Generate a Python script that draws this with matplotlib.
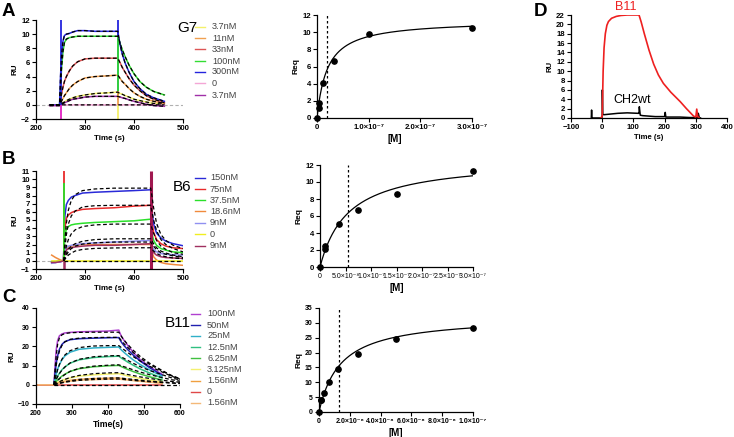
import numpy as np
import matplotlib
matplotlib.use("Agg")
import matplotlib.pyplot as plt
from matplotlib.lines import Line2D

plt.rcParams['font.family'] = ['Liberation Sans', 'DejaVu Sans']

W, H = 734, 437
nan = np.nan

# ---------------- Panel A (G7) sensorgram ----------------
a_time = [228, 248, 250, 252, 255, 258, 262, 268, 275, 285, 300, 320, 345, 367,
          369, 372, 376, 382, 390, 400, 412, 425, 440, 462]
a_labels = ['3.7nM', '11nM', '33nM', '100nM', '300nM', '0', '3.7nM']
a_colors = ['#f4f06a', '#f0a050', '#dd5555', '#33dd33', '#2424dd', '#f4a6d6', '#a030a8']
a_37y = [0, 0, 0, 0.1, 0.3, 0.4, 0.6, 0.8, 1.0, 1.2, 1.4, 1.6, 1.7, 1.8,
         1.7, 1.6, 1.5, 1.3, 1.1, 0.8, 0.6, 0.4, 0.2, 0.1]
a_11 = [0, 0, 0.2, 0.5, 0.9, 1.3, 1.7, 2.3, 2.8, 3.3, 3.8, 4.0, 4.1, 4.2,
        4.0, 3.7, 3.3, 2.9, 2.3, 1.7, 1.2, 0.8, 0.5, 0.2]
a_33 = [0, 0, 0.5, 1.5, 2.5, 3.3, 4.0, 4.8, 5.5, 6.1, 6.5, 6.6, 6.6, 6.6,
        6.3, 5.9, 5.3, 4.6, 3.7, 2.8, 2.0, 1.3, 0.8, 0.3]
a_100 = [0, 0, 2.0, 5.0, 7.5, 8.8, 9.3, 9.5, 9.6, 9.7, 9.7, 9.7, 9.7, 9.7,
         9.3, 8.6, 7.8, 6.8, 5.6, 4.4, 3.3, 2.5, 1.9, 1.4]
a_300 = [0, 0, 4.0, 7.0, 9.0, 9.8, 10.0, 10.1, 10.3, 10.5, 10.5, 10.4, 10.4, 10.4,
         9.5, 8.4, 7.2, 5.9, 4.6, 3.3, 2.3, 1.5, 1.0, 0.5]
a_0 = [-0.1, -0.1, 0, 0, 0, 0, 0, 0, 0, 0, 0, 0, 0, 0,
       0, 0, 0, 0, 0, 0, 0, 0, 0, 0]
a_37p = [-0.1, -0.1, 0, 0.1, 0.2, 0.3, 0.4, 0.6, 0.8, 0.9, 1.1, 1.2, 1.2, 1.2,
         1.15, 1.1, 1.0, 0.9, 0.7, 0.5, 0.3, 0.1, -0.1, -0.2]
a_series = [a_37y, a_11, a_33, a_100, a_300, a_0, a_37p]
a_spike_t = [250, 250, 368, 368, 368, 368]
a_spike_lo = [0, -2, 0.7, 1.0, 0, -2]
a_spike_hi = [12, 0, 12, 9.7, 2.0, 0]
a_spike_c = ['#2424dd', '#e020c0', '#2424dd', '#33dd33', '#f0a050', '#f4f06a']

# ---------------- Panel A Req ----------------
a_conc = [0, 3.7e-9, 3.7e-9, 1.1e-8, 3.3e-8, 1.0e-7, 3.0e-7]
a_req = [0, 1.2, 1.7, 4.1, 6.6, 9.8, 10.5]
a_kd, a_rmax = 2.0e-8, 11.4

# ---------------- Panel B (B6) sensorgram ----------------
b_time = [232, 240, 250, 256, 257, 259, 262, 266, 272, 280, 295, 320, 360, 400, 434,
          436, 440, 446, 455, 465, 480, 500]
b_labels = ['150nM', '75nM', '37.5nM', '18.6nM', '9nM', '0', '9nM']
b_colors = ['#2a2ad8', '#e82a2a', '#2ae02a', '#f08a3c', '#9090f0', '#f0ee20', '#a03060']
b_150 = [-0.2, -0.2, -0.1, 0, 2.0, 5.5, 6.9, 7.4, 7.8, 8.0, 8.3, 8.4, 8.5, 8.6, 8.7,
         6.5, 4.5, 3.4, 2.8, 2.4, 2.1, 1.85]
b_75 = [-0.1, -0.1, 0, 0, 1.5, 4.0, 5.2, 5.6, 5.9, 6.1, 6.3, 6.4, 6.5, 6.7, 6.8,
        5.0, 3.5, 2.6, 2.1, 1.8, 1.6, 1.5]
b_37 = [-0.1, -0.1, 0, 0, 1.0, 3.0, 3.9, 4.2, 4.4, 4.5, 4.6, 4.7, 4.8, 4.9, 5.1,
        3.5, 2.5, 1.9, 1.5, 1.3, 1.1, 1.0]
b_18 = [0.7, 0.4, 0.1, 0, 0.3, 0.9, 1.4, 1.7, 1.8, 1.9, 2.0, 2.0, 2.0, 2.0, 2.0,
        1.2, 0.5, 0.1, -0.2, -0.35, -0.45, -0.55]
b_9a = [-0.3, -0.2, -0.1, 0, 0.5, 1.2, 1.6, 1.8, 1.9, 2.0, 2.1, 2.2, 2.3, 2.4, 2.5,
        1.9, 1.4, 1.1, 0.9, 0.8, 0.75, 0.7]
b_0 = [0, 0, 0, 0, 0, 0, 0, 0, 0, 0, 0, 0, 0, 0, 0, 0, 0, 0, 0, 0, 0, 0]
b_9b = [-0.2, -0.2, -0.1, 0, 0.3, 0.9, 1.3, 1.5, 1.6, 1.7, 1.8, 1.9, 1.9, 2.0, 2.1,
        1.5, 1.0, 0.7, 0.5, 0.4, 0.35, 0.3]
b_series = [b_150, b_75, b_37, b_18, b_9a, b_0, b_9b]
b_fit1 = [0, 0, 0, 0, 0, 2.5, 4.6, 6.2, 7.4, 8.1, 8.6, 8.8, 8.9, 8.9, 8.9,
          8.2, 6.5, 4.6, 3.2, 2.5, 1.9, 1.5]
b_fit2 = [0, 0, 0, 0, 0, 1.6, 3.2, 4.5, 5.5, 6.1, 6.6, 6.75, 6.8, 6.8, 6.8,
          6.2, 5.0, 3.7, 2.6, 2.0, 1.5, 1.1]
b_fit3 = [0, 0, 0, 0, 0, 0.9, 1.8, 2.6, 3.3, 3.8, 4.2, 4.4, 4.5, 4.5, 4.5,
          4.1, 3.4, 2.5, 1.8, 1.4, 1.0, 0.8]
b_fit4 = [0, 0, 0, 0, 0, 0.4, 0.9, 1.4, 1.8, 2.1, 2.4, 2.6, 2.7, 2.7, 2.7,
          2.5, 2.1, 1.6, 1.2, 0.95, 0.7, 0.5]
b_fit5 = [0, 0, 0, 0, 0, 0.3, 0.7, 1.1, 1.5, 1.8, 2.05, 2.2, 2.3, 2.3, 2.3,
          2.1, 1.8, 1.35, 1.0, 0.8, 0.6, 0.4]
b_fit6 = [0, 0, 0, 0, 0, 0.2, 0.45, 0.7, 0.95, 1.2, 1.4, 1.52, 1.58, 1.6, 1.6,
          1.45, 1.2, 0.9, 0.65, 0.5, 0.35, 0.25]
b_fits = [b_fit1, b_fit2, b_fit3, b_fit4, b_fit5, b_fit6, b_0]
b_spike_t = [257, 257, 257, 435]
b_spike_lo = [0, 0, -1, -1]
b_spike_hi = [11, 9.5, 0, 11]
b_spike_c = ['#e82a2a', '#2ae02a', '#a03060', '#a01850']

# ---------------- Panel B Req ----------------
b_conc = [0, 9e-9, 9e-9, 3.75e-8, 7.5e-8, 1.5e-7, 3.0e-7]
b_req = [0, 2.1, 2.5, 5.1, 6.75, 8.6, 11.25]
b_kd, b_rmax = 5.5e-8, 12.7

# ---------------- Panel C (B11) sensorgram ----------------
c_time = [206, 248, 250, 253, 256, 260, 265, 272, 280, 295, 320, 360, 400, 430,
          433, 438, 445, 455, 470, 490, 515, 550, 575, 600]
c_labels = ['100nM', '50nM', '25nM', '12.5nM', '6.25nM', '3.125nM', '1.56nM', '0', '1.56nM']
c_colors = ['#b040d0', '#2020b0', '#30b0c8', '#30c080', '#40c040', '#f4f070', '#f0a040',
            '#e04848', '#f4b878']
c_100 = [0, 0, 0, 10, 18, 23, 25.5, 26.5, 27, 27.3, 27.6, 27.8, 28.0, 28.5,
         27, 25, 23, 20.5, 17, 13, 9.5, 5.5, nan, nan]
c_50 = [0, 0, 0, 6, 11, 15, 18.5, 21, 22.5, 23.5, 24, 24.3, 24.5, 24.6,
        23.5, 22, 20.3, 18.3, 15.5, 12.3, 9, 5, nan, nan]
c_25 = [0, 0, 0, 3, 5.5, 8, 10.5, 13, 15, 17, 18.5, 19.2, 19.5, 19.7,
        19, 18, 16.8, 15.2, 13, 10.5, 7.8, 4.5, nan, nan]
c_12 = [0, 0, 0, 1.5, 3, 4.5, 6, 7.8, 9.3, 11.3, 13, 14.2, 14.7, 14.9,
        14.5, 13.8, 13, 11.8, 10.2, 8.2, 6.2, 3.5, nan, nan]
c_6 = [0, 0, 0, 0.8, 1.6, 2.5, 3.4, 4.5, 5.5, 7, 8.4, 9.4, 9.9, 10.1,
       9.8, 9.4, 8.8, 8.0, 6.9, 5.6, 4.2, 2.5, nan, nan]
c_3 = [0, 0, 0, 0.4, 0.8, 1.2, 1.7, 2.3, 2.8, 3.6, 4.5, 5.2, 5.6, 5.8,
       5.6, 5.4, 5.1, 4.6, 4.0, 3.3, 2.5, 1.5, nan, nan]
c_1a = [0, 0, 0, 0.2, 0.5, 0.8, 1.1, 1.5, 1.8, 2.3, 2.8, 3.2, 3.4, 3.5,
        3.4, 3.3, 3.1, 2.8, 2.4, 2.0, 1.5, 0.9, nan, nan]
c_0 = [0, 0, 0, 0, 0, 0, 0, 0, 0, 0, 0, 0, 0, 0,
       0, 0, 0, 0, 0, 0, 0, 0, nan, nan]
c_1b = [0, 0, 0, 0.2, 0.4, 0.6, 0.9, 1.2, 1.5, 1.9, 2.4, 2.7, 2.9, 3.0,
        2.9, 2.8, 2.7, 2.5, 2.2, 1.8, 1.4, 0.8, nan, nan]
c_series = [c_100, c_50, c_25, c_12, c_6, c_3, c_1a, c_0, c_1b]
c_fit1 = [0, 0, 0, 8, 15, 21, 24.5, 26, 26.7, 27.1, 27.3, 27.4, 27.4, 27.4,
          26.5, 25, 23.2, 21, 18, 14.7, 11.3, 7.5, 5.0, 3.2]
c_fit2 = [0, 0, 0, 5, 10, 14, 17.5, 20.5, 22.3, 23.7, 24.3, 24.6, 24.7, 24.7,
          24, 22.8, 21.3, 19.4, 16.8, 13.8, 10.7, 7.2, 4.8, 3.0]
c_fit3 = [0, 0, 0, 2.5, 5, 7.8, 10.5, 13.3, 15.5, 17.8, 19.4, 20.2, 20.4, 20.4,
          20, 19.2, 18.2, 16.8, 14.7, 12.3, 9.7, 6.7, 4.6, 2.9]
c_fit4 = [0, 0, 0, 1.3, 2.7, 4.2, 5.8, 7.6, 9.2, 11.4, 13.3, 14.6, 15.1, 15.2,
          14.9, 14.4, 13.7, 12.7, 11.2, 9.4, 7.5, 5.3, 3.7, 2.5]
c_fit5 = [0, 0, 0, 0.7, 1.4, 2.2, 3.1, 4.2, 5.3, 7, 8.6, 9.7, 10.2, 10.4,
          10.2, 9.9, 9.4, 8.8, 7.8, 6.6, 5.3, 3.8, 2.7, 1.9]
c_fit6 = [0, 0, 0, 0.35, 0.7, 1.1, 1.6, 2.2, 2.8, 3.8, 4.9, 5.8, 6.2, 6.3,
          6.2, 6.0, 5.7, 5.35, 4.8, 4.1, 3.3, 2.4, 1.8, 1.3]
c_fit7 = [0, 0, 0, 0.2, 0.4, 0.6, 0.9, 1.2, 1.6, 2.1, 2.8, 3.3, 3.55, 3.6,
          3.55, 3.45, 3.3, 3.1, 2.8, 2.4, 1.95, 1.45, 1.1, 0.8]
c_fit8 = [0, 0, 0, 0.15, 0.3, 0.5, 0.75, 1.0, 1.3, 1.75, 2.3, 2.75, 2.95, 3.0,
          2.95, 2.85, 2.75, 2.55, 2.3, 2.0, 1.6, 1.2, 0.9, 0.65]
c_fit0 = [0] * 24
c_fits = [c_fit1, c_fit2, c_fit3, c_fit4, c_fit5, c_fit6, c_fit7, c_fit8, c_fit0]

# ---------------- Panel C Req ----------------
c_conc = [0, 1.56e-9, 1.56e-9, 3.125e-9, 6.25e-9, 1.25e-8, 2.5e-8, 5e-8, 1e-7]
c_req = [0, 3.9, 4.0, 6.3, 10.2, 14.6, 19.6, 24.6, 28.4]
c_kd, c_rmax, c_kd_line = 1.4e-8, 32.3, 1.3e-8

# ---------------- Panel D ----------------
d_red_t = [-5, 0, 3, 6, 10, 15, 20, 30, 45, 60, 80, 100, 118, 125, 135, 150, 165,
           180, 196, 220, 250, 270, 293, 300, 303, 306, 310]
d_red_v = [0, 0.3, 10, 15, 18, 19.8, 20.6, 21.3, 21.7, 21.9, 22, 22, 22, 20.5, 18,
           14.5, 11.5, 9.2, 7.4, 5.5, 3.5, 2.0, 0.4, 0.2, 1.9, 0.3, 0.1]
d_blk_t = [-35, -34, -33, -32, -5, 0, 0.5, 2, 5, 20, 50, 80, 115, 118, 119, 122,
           130, 150, 170, 200, 202, 204, 210, 250, 280, 305, 308, 311, 315]
d_blk_v = [0, 1.7, 0, 0, 0, 0.2, 6.0, 0.8, 0.7, 0.8, 1.0, 1.1, 1.0, 1.0, 2.4, 0.6,
           0.5, 0.4, 0.3, 0.3, 1.2, 0.2, 0.2, 0.2, 0.1, 0.1, 1.0, 0.1, 0]


# ---------------- helpers ----------------
def add_ax(fig, x0, x1, y0, y1):
    return fig.add_axes([x0 / W, 1 - y1 / H, (x1 - x0) / W, (y1 - y0) / H])


TICK_FS = 5.6


def style(ax):
    for s in ['top', 'right']:
        ax.spines[s].set_visible(False)
    for s in ['left', 'bottom']:
        ax.spines[s].set_linewidth(0.9)
    ax.tick_params(direction='out', length=3, width=0.8, labelsize=TICK_FS, pad=1.5)
    for lab in ax.get_xticklabels() + ax.get_yticklabels():
        lab.set_fontweight('bold')


def legend(fig, x_line0, x_line1, x_text, ys, labels, colors):
    for y, lab, col in zip(ys, labels, colors):
        fig.add_artist(Line2D([x_line0 / W, x_line1 / W], [1 - y / H, 1 - y / H],
                              color=col, lw=1.0, transform=fig.transFigure))
        fig.text(x_text / W, 1 - y / H, lab, fontsize=6.6, color='#444444',
                 va='center', ha='left')


def sci(v, pos=None):
    if v == 0:
        return '0'
    e = int(np.floor(np.log10(abs(v))))
    m = v / 10 ** e
    sup = str(e).replace('-', '\u207b').translate(str.maketrans('0123456789', '⁰¹²³⁴⁵⁶⁷⁸⁹'))
    return f'{m:.1f}\u00d710{sup}'


fig = plt.figure(figsize=(W / 100, H / 100), dpi=100)

# ---- A left ----
ax = add_ax(fig, 36, 183, 20, 119)
ax.axhline(0, color='#b0b0b0', lw=0.8, ls=(0, (3, 2)))
for ys, c in zip(a_series, a_colors):
    ax.plot(a_time, ys, color=c, lw=1.1)
ax.vlines(a_spike_t, a_spike_lo, a_spike_hi, colors=a_spike_c, lw=1.3)
for ys in a_series:
    ax.plot(a_time, ys, color='black', lw=0.9, ls=(0, (3, 2)))
ax.set_xlim(200, 500)
ax.set_ylim(-2, 12)
ax.set_xticks([200, 300, 400, 500])
ax.set_yticks(range(-2, 13, 2))
ax.set_ylabel('RU', fontsize=5.8, fontweight='bold', labelpad=2)
ax.set_xlabel('Time (s)', fontsize=5.8, fontweight='bold', labelpad=2)
style(ax)
fig.text(177 / W, 1 - 28 / H, 'G7', fontsize=11, va='center', ha='left')
legend(fig, 195, 205, 212, [26.7, 38.3, 49.3, 61, 72, 83.3, 95], a_labels, a_colors)

# ---- A right ----
ax = add_ax(fig, 317, 472, 15, 118)
xx = np.linspace(0, max(a_conc), 300)
ax.plot(xx, a_rmax * xx / (a_kd + xx), color='black', lw=0.9)
ax.plot(a_conc, a_req, 'o', color='black', ms=3.8, clip_on=False, zorder=5)
ax.axvline(a_kd, color='black', lw=0.9, ls=(0, (2, 2)))
ax.set_xlim(0, 3.0e-7)
ax.set_ylim(0, 12)
ax.set_xticks([0, 1e-7, 2e-7, 3e-7])
ax.xaxis.set_major_formatter(plt.FuncFormatter(sci))
ax.set_yticks(range(0, 13, 2))
ax.set_ylabel('Req', fontsize=6, fontweight='bold', labelpad=2)
ax.set_xlabel('[M]', fontsize=7, fontweight='bold', labelpad=2)
style(ax)

# ---- D ----
ax = add_ax(fig, 571, 727, 15, 118)
ax.plot(d_blk_t, d_blk_v, color='black', lw=1.1)
ax.plot(d_red_t, d_red_v, color='#ee2020', lw=1.2)
ax.set_xlim(-100, 400)
ax.set_ylim(0, 22)
ax.set_xticks(range(-100, 401, 100))
ax.set_yticks(range(0, 23, 2))
ax.set_ylabel('RU', fontsize=5.6, fontweight='bold', labelpad=2)
ax.set_xlabel('Time (s)', fontsize=5.6, fontweight='bold', labelpad=2)
style(ax)
fig.text(626 / W, 1 - 7 / H, 'B11', fontsize=9, color='#ee2020', ha='center', va='center')
fig.text(632 / W, 1 - 100 / H, 'CH2wt', fontsize=9, color='black', ha='center', va='center')

# ---- B left ----
ax = add_ax(fig, 36, 183, 171, 269)
ax.axhline(0, color='#b0b0b0', lw=0.8, ls=(0, (3, 2)))
for ys, c in zip(b_series, b_colors):
    ax.plot(b_time, ys, color=c, lw=1.1)
ax.vlines(b_spike_t, b_spike_lo, b_spike_hi, colors=b_spike_c, lw=[1.3, 1.3, 1.8, 2.2])
for ys in b_fits:
    ax.plot(b_time[4:], ys[4:], color='black', lw=0.9, ls=(0, (3, 2)))
ax.set_xlim(200, 500)
ax.set_ylim(-1, 11)
ax.set_xticks([200, 300, 400, 500])
ax.set_yticks(range(-1, 12, 1))
ax.set_ylabel('RU', fontsize=5.8, fontweight='bold', labelpad=2)
ax.set_xlabel('Time (s)', fontsize=5.8, fontweight='bold', labelpad=2)
style(ax)
fig.text(173 / W, 1 - 187 / H, 'B6', fontsize=11, va='center', ha='left')
legend(fig, 195, 205, 210, [177.7, 189, 200.3, 211.3, 222.7, 234.3, 245.7], b_labels, b_colors)

# ---- B right ----
ax = add_ax(fig, 320, 473, 165, 267)
xx = np.linspace(0, max(b_conc), 300)
ax.plot(xx, b_rmax * xx / (b_kd + xx), color='black', lw=0.9)
ax.plot(b_conc, b_req, 'o', color='black', ms=3.8, clip_on=False, zorder=5)
ax.axvline(b_kd, color='black', lw=0.9, ls=(0, (2, 2)))
ax.set_xlim(0, 3.0e-7)
ax.set_ylim(0, 12)
ax.set_xticks([0, 5e-8, 1e-7, 1.5e-7, 2e-7, 2.5e-7, 3e-7])
ax.xaxis.set_major_formatter(plt.FuncFormatter(sci))
ax.set_yticks(range(0, 13, 2))
ax.set_ylabel('Req', fontsize=6, fontweight='bold', labelpad=2)
ax.set_xlabel('[M]', fontsize=7, fontweight='bold', labelpad=2)
style(ax)
for lab in ax.get_xticklabels():
    lab.set_fontsize(5.0)
    lab.set_fontweight('normal')

# ---- C left ----
ax = add_ax(fig, 36, 180, 308, 404)
for ys, c in zip(c_series, c_colors):
    ax.plot(c_time, ys, color=c, lw=1.1)
for ys in c_fits:
    ax.plot(c_time[2:], ys[2:], color='black', lw=0.9, ls=(0, (3, 2)))
ax.set_xlim(200, 600)
ax.set_ylim(-10, 40)
ax.set_xticks(range(200, 601, 100))
ax.set_yticks(range(-10, 41, 10))
ax.set_ylabel('RU', fontsize=5.8, fontweight='bold', labelpad=2)
ax.set_xlabel('Time(s)', fontsize=6.2, fontweight='bold', labelpad=2)
style(ax)
for lab in ax.get_xticklabels() + ax.get_yticklabels():
    lab.set_fontsize(5.0)
fig.text(165 / W, 1 - 323 / H, 'B11', fontsize=11, va='center', ha='left')
legend(fig, 191, 200, 207, [314, 325, 336, 347.3, 358.3, 369.3, 380.7, 391.7, 402.7],
       c_labels, c_colors)

# ---- C right ----
ax = add_ax(fig, 319, 473, 308, 412)
xx = np.linspace(0, max(c_conc), 300)
ax.plot(xx, c_rmax * xx / (c_kd + xx), color='black', lw=0.9)
ax.plot(c_conc, c_req, 'o', color='black', ms=3.8, clip_on=False, zorder=5)
ax.axvline(c_kd_line, color='black', lw=0.9, ls=(0, (2, 2)))
ax.set_xlim(0, 1.0e-7)
ax.set_ylim(0, 35)
ax.set_xticks([0, 2e-8, 4e-8, 6e-8, 8e-8, 1e-7])
ax.xaxis.set_major_formatter(plt.FuncFormatter(sci))
ax.set_yticks(range(0, 36, 5))
ax.set_ylabel('Req', fontsize=6, fontweight='bold', labelpad=2)
ax.set_xlabel('[M]', fontsize=7, fontweight='bold', labelpad=2)
style(ax)
for lab in ax.get_xticklabels() + ax.get_yticklabels():
    lab.set_fontsize(5.0)

# panel letters
for let, (x, y) in zip(['A', 'B', 'C', 'D'], [(2, 12), (2, 160), (2, 298), (534, 12)]):
    fig.text(x / W, 1 - y / H, let, fontsize=13.5, fontweight='bold', va='center', ha='left')

fig.savefig('out.png', dpi=100)
